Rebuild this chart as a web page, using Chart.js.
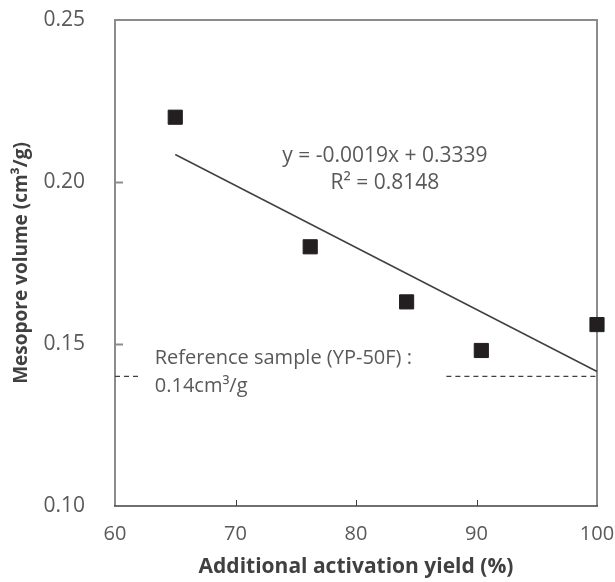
<!DOCTYPE html>
<html>
<head>
<meta charset="utf-8">
<script src="https://cdn.jsdelivr.net/npm/chart.js@4.4.0/dist/chart.umd.min.js"></script>
<style>
  html, body { margin: 0; padding: 0; background: #fff; }
  #wrap { width: 615px; height: 582px; position: relative; }
</style>
</head>
<body>
<div id="wrap"><canvas id="mesoChart"></canvas></div>
<script>
// values
const yieldPct = [65.0, 76.2, 84.2, 90.4, 100.0];
const mesoVolume = [0.220, 0.180, 0.163, 0.148, 0.156];
const trendX = [65, 100];
const trendY = [0.2085, 0.1415];
const refX = [60, 62.1, null, 87.5, 100];
const refValue = 0.14;
const xTicks = [60, 70, 80, 90, 100];
const yTicks = [0.10, 0.15, 0.20, 0.25];

const textGray = '#595959';
const darkLine = '#404040';
const frameGray = '#8c8c8c';
const markerColor = '#231f20';
const fontFamily = "'Open Sans', sans-serif";

const points = yieldPct.map((x, i) => ({ x: x, y: mesoVolume[i] }));
const trend = trendX.map((x, i) => ({ x: x, y: trendY[i] }));
const refLine = refX.map(x => x === null ? { x: 75, y: null } : { x: x, y: refValue });

// frame, inward ticks and the text labels inside the plot
const framePlugin = {
    id: 'frame',
    beforeDatasetsDraw(chart) {
        const { ctx, chartArea: a, scales: { x, y } } = chart;
        ctx.save();
        ctx.strokeStyle = frameGray;
        ctx.lineWidth = 2;
        ctx.beginPath();
        ctx.moveTo(a.left, a.bottom);
        ctx.lineTo(a.left, a.top);
        ctx.lineTo(a.right, a.top);
        ctx.lineTo(a.right, a.bottom);
        ctx.stroke();
        // inward y ticks
        yTicks.slice(1, -1).forEach(v => {
            const py = Math.round(y.getPixelForValue(v)) + 0.5;
            ctx.beginPath();
            ctx.moveTo(a.left, py);
            ctx.lineTo(a.left + 8, py);
            ctx.stroke();
        });
        ctx.strokeStyle = darkLine;
        ctx.lineWidth = 1.5;
        ctx.beginPath();
        ctx.moveTo(a.left - 1, a.bottom);
        ctx.lineTo(a.right + 1, a.bottom);
        ctx.stroke();
        ctx.lineWidth = 1;
        xTicks.slice(1, -1).forEach(v => {
            const px = Math.round(x.getPixelForValue(v)) + 0.5;
            ctx.beginPath();
            ctx.moveTo(px, a.bottom);
            ctx.lineTo(px, a.bottom - 6);
            ctx.stroke();
        });
        ctx.restore();
    },
    afterDraw(chart) {
        const { ctx, scales: { x, y } } = chart;
        ctx.save();
        ctx.fillStyle = textGray;
        ctx.textBaseline = 'middle';
        ctx.textAlign = 'center';
        ctx.font = '21px ' + fontFamily;
        const cx = x.getPixelForValue(82.4);
        ctx.fillText('y = -0.0019x + 0.3339', cx, y.getPixelForValue(0.2079));
        ctx.fillText('R² = 0.8148', cx, y.getPixelForValue(0.1996));
        ctx.textAlign = 'left';
        ctx.font = '20px ' + fontFamily;
        const lx = x.getPixelForValue(63.3);
        ctx.fillText('Reference sample (YP-50F) :', lx, y.getPixelForValue(0.1455));
        ctx.fillText('0.14cm³/g', lx, y.getPixelForValue(0.1368));
        ctx.restore();
    }
};

function noPad(s) {
    s.paddingTop = 0;
    s.paddingBottom = 0;
    s.paddingLeft = 0;
    s.paddingRight = 0;
}

new Chart(document.getElementById('mesoChart'), {
    type: 'scatter',
    data: {
        datasets: [
            {
                data: points,
                pointStyle: 'rect',
                pointRadius: 10,
                pointHoverRadius: 10,
                backgroundColor: markerColor,
                borderColor: markerColor,
                borderWidth: 1,
                clip: false,
                order: 0
            },
            {
                type: 'line',
                data: trend,
                borderColor: darkLine,
                borderWidth: 1.5,
                pointRadius: 0,
                fill: false,
                clip: false,
                order: 1
            },
            {
                type: 'line',
                data: refLine,
                borderColor: darkLine,
                borderWidth: 1.3,
                borderDash: [5, 4],
                pointRadius: 0,
                spanGaps: false,
                fill: false,
                clip: false,
                order: 2
            }
        ]
    },
    options: {
        responsive: true,
        maintainAspectRatio: false,
        animation: false,
        layout: { padding: { top: 20, right: 18, left: 0, bottom: 0 } },
        plugins: {
            legend: { display: false },
            tooltip: { enabled: false }
        },
        scales: {
            x: {
                type: 'linear',
                min: 60,
                max: 100,
                afterFit: s => { s.height = 76; noPad(s); },
                afterBuildTicks: s => { s.ticks = xTicks.map(v => ({ value: v })); },
                grid: { display: false, drawTicks: false },
                border: { display: false },
                ticks: {
                    padding: 16,
                    color: textGray,
                    font: { family: fontFamily, size: 20 },
                    maxRotation: 0
                },
                title: {
                    display: true,
                    text: 'Additional activation yield (%)',
                    color: darkLine,
                    font: { family: fontFamily, size: 21, weight: 'bold' },
                    padding: { top: 0, bottom: 2 }
                }
            },
            y: {
                type: 'linear',
                min: 0.10,
                max: 0.25,
                afterFit: s => { s.width = 115; noPad(s); },
                afterBuildTicks: s => { s.ticks = yTicks.map(v => ({ value: v })); },
                grid: { display: false, drawTicks: false },
                border: { display: false },
                ticks: {
                    padding: 30,
                    color: textGray,
                    font: { family: fontFamily, size: 21 },
                    callback: v => v.toFixed(2)
                },
                title: {
                    display: true,
                    text: 'Mesopore volume (cm³/g)',
                    color: darkLine,
                    font: { family: fontFamily, size: 19, weight: 'bold' },
                    padding: { top: 10, bottom: 0 }
                }
            }
        }
    },
    plugins: [framePlugin]
});
</script>
</body>
</html>
